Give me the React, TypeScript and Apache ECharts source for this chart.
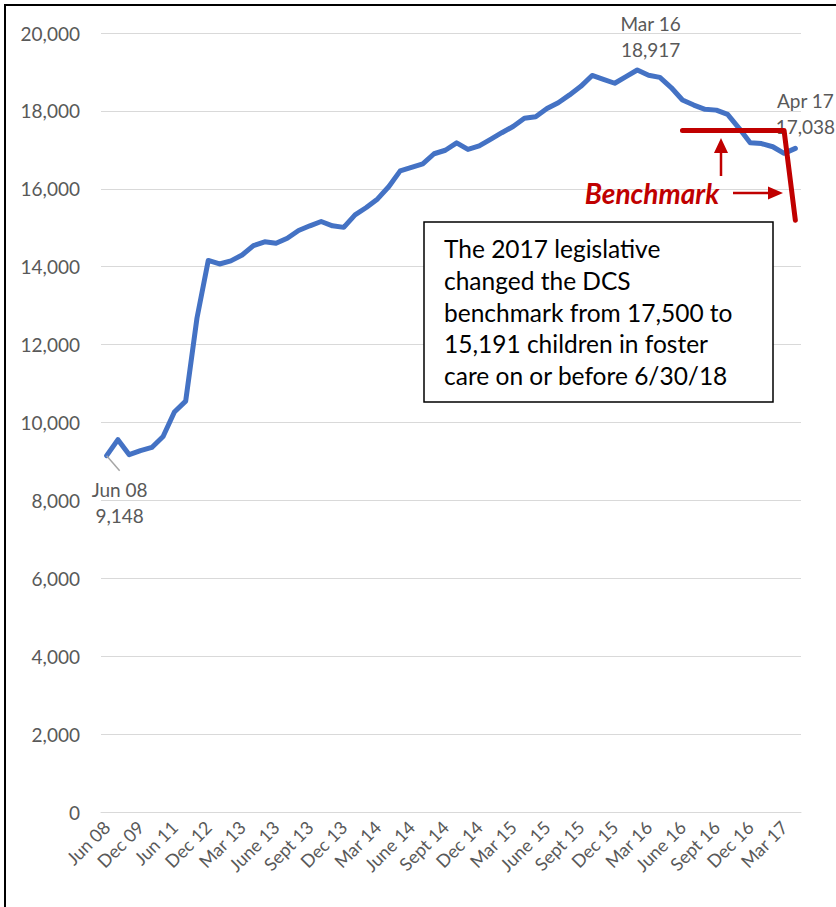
import React, { useEffect, useRef } from "react";
import * as echarts from "echarts";

const categories: string[] = [
  "Jun 08", "Dec 08", "Jun 09", "Dec 09", "Jun 10", "Dec 10", "Jun 11", "Dec 11", "Jun 12", "Dec 12",
  "Jan 13", "Feb 13", "Mar 13", "Apr 13", "May 13", "June 13", "July 13", "Aug 13", "Sept 13", "Oct 13", "Nov 13", "Dec 13",
  "Jan 14", "Feb 14", "Mar 14", "Apr 14", "May 14", "June 14", "July 14", "Aug 14", "Sept 14", "Oct 14", "Nov 14", "Dec 14",
  "Jan 15", "Feb 15", "Mar 15", "Apr 15", "May 15", "June 15", "July 15", "Aug 15", "Sept 15", "Oct 15", "Nov 15", "Dec 15",
  "Jan 16", "Feb 16", "Mar 16", "Apr 16", "May 16", "June 16", "July 16", "Aug 16", "Sept 16", "Oct 16", "Nov 16", "Dec 16",
  "Jan 17", "Feb 17", "Mar 17", "Apr 17",
];

const childrenInCare: number[] = [
  9148, 9560, 9175, 9280, 9360, 9640, 10270, 10550, 12680, 14160,
  14070, 14150, 14300, 14540, 14640, 14600, 14730, 14930, 15050, 15160, 15050, 15010,
  15330, 15520, 15740, 16060, 16460, 16550, 16640, 16900, 16990, 17180, 17010, 17100,
  17270, 17440, 17600, 17810, 17850, 18060, 18210, 18410, 18630, 18910, 18810, 18710,
  18880, 19050, 18917, 18860, 18600, 18280, 18150, 18040, 18020, 17910, 17560, 17180,
  17160, 17080, 16910, 17038,
];

const benchmarkOld = 17500;
const benchmarkNew = 15191;
const benchmarkFrom = "June 16";
const benchmarkTo = "Apr 17";

const yTicks: number[] = [0, 2000, 4000, 6000, 8000, 10000, 12000, 14000, 16000, 18000, 20000];

const labelledPoints: string[] = ["Jun 08", "Mar 16", "Apr 17"];

const noteText =
  "The 2017 legislative\nchanged the DCS\nbenchmark from 17,500 to\n15,191 children in foster\ncare on or before 6/30/18";

const FONT = "Lato, 'Open Sans', sans-serif";
const GRAY = "#595959";
const RED = "#C00000";

const fmt = (v: number) => v.toLocaleString("en-US");

export default function App() {
  const ref = useRef<HTMLDivElement>(null);

  useEffect(() => {
    if (!ref.current) return;
    const chart = echarts.init(ref.current, null, { renderer: "svg" });

    const startIdx = categories.indexOf(benchmarkFrom);
    const endIdx = categories.indexOf(benchmarkTo);
    const benchmarkData = categories.map((_, i) =>
      i >= startIdx && i < endIdx ? benchmarkOld : i === endIdx ? benchmarkNew : null
    );

    const labelCfg: Record<string, any> = {
      "Jun 08": { position: "bottom", distance: 20, offset: [13, 0] },
      "Mar 16": { position: "top", distance: 12, offset: [2, 0] },
      "Apr 17": { position: "top", distance: 8, offset: [10, 0] },
    };

    const lineData = childrenInCare.map((v, i) => {
      const name = categories[i];
      if (labelledPoints.includes(name)) {
        return {
          value: v,
          label: {
            show: true,
            ...labelCfg[name],
            formatter: (p: any) => `${p.name}\n${fmt(p.value)}`,
            fontFamily: FONT,
            fontSize: 19,
            lineHeight: 26,
            color: GRAY,
            align: "center",
          },
        };
      }
      return v;
    });

    chart.setOption({
      animation: false,
      backgroundColor: "#ffffff",
      grid: { left: 101, top: 33, width: 700, height: 779, containLabel: false },
      xAxis: {
        type: "category",
        data: categories,
        boundaryGap: true,
        axisLine: { show: true, lineStyle: { color: "#D9D9D9", width: 1 } },
        axisTick: { show: false },
        axisLabel: {
          interval: 2,
          rotate: 45,
          margin: 12,
          color: GRAY,
          fontFamily: FONT,
          fontSize: 18,
        },
        splitLine: { show: false },
      },
      yAxis: {
        type: "value",
        min: yTicks[0],
        max: yTicks[yTicks.length - 1],
        interval: 2000,
        axisLine: { show: false },
        axisTick: { show: false },
        axisLabel: {
          margin: 21,
          color: GRAY,
          fontFamily: FONT,
          fontSize: 19,
          formatter: (v: number) => fmt(v),
        },
        splitLine: { show: true, lineStyle: { color: "#D9D9D9", width: 1 } },
      },
      series: [
        {
          type: "line",
          name: "Children in foster care",
          data: lineData,
          symbol: "circle",
          symbolSize: 1,
          showSymbol: true,
          itemStyle: { color: "#4472C4" },
          lineStyle: { color: "#4472C4", width: 5, cap: "round", join: "round" },
          z: 3,
        },
        {
          type: "line",
          name: "Benchmark",
          data: benchmarkData,
          symbol: "none",
          connectNulls: false,
          lineStyle: { color: RED, width: 5, cap: "round", join: "round" },
          z: 4,
        },
      ],
    });

    const p0 = chart.convertToPixel({ xAxisIndex: 0, yAxisIndex: 0 }, [0, childrenInCare[0]]) as number[];

    chart.setOption({
      graphic: [
        {
          type: "polyline",
          shape: { points: [[5, 907], [5, 5], [836, 5]] },
          style: { stroke: "#000", lineWidth: 2, fill: "none" },
          z: 10,
        },
        {
          type: "line",
          shape: { x1: p0[0], y1: p0[1], x2: p0[0] + 13, y2: p0[1] + 15 },
          style: { stroke: "#A6A6A6", lineWidth: 1.5 },
          z: 10,
        },
        {
          type: "line",
          shape: { x1: 721, y1: 176, x2: 721, y2: 150 },
          style: { stroke: RED, lineWidth: 2.5 },
          z: 10,
        },
        {
          type: "polygon",
          shape: { points: [[714, 153], [728, 153], [721, 138]] },
          style: { fill: RED },
          z: 10,
        },
        {
          type: "line",
          shape: { x1: 733, y1: 193, x2: 770, y2: 193 },
          style: { stroke: RED, lineWidth: 2.5 },
          z: 10,
        },
        {
          type: "polygon",
          shape: { points: [[768, 186.5], [768, 199.5], [783, 193]] },
          style: { fill: RED },
          z: 10,
        },
        {
          type: "text",
          x: 652,
          y: 193,
          style: {
            text: "Benchmark",
            font: `italic bold 28px ${FONT}`,
            fill: RED,
            textAlign: "center",
            textVerticalAlign: "middle",
          },
          z: 10,
        },
        {
          type: "rect",
          shape: { x: 424, y: 222, width: 349, height: 180 },
          style: { fill: "#fff", stroke: "#000", lineWidth: 1.5 },
          z: 10,
        },
        {
          type: "text",
          x: 444,
          y: 312,
          style: {
            text: noteText,
            font: `24.5px ${FONT}`,
            lineHeight: 31.6,
            fill: "#000",
            textAlign: "left",
            textVerticalAlign: "middle",
          },
          z: 11,
        },
      ],
    });

    return () => chart.dispose();
  }, []);

  return (
    <div
      ref={ref}
      style={{ position: "absolute", left: 0, top: 0, width: 836, height: 907, background: "#fff" }}
    />
  );
}
